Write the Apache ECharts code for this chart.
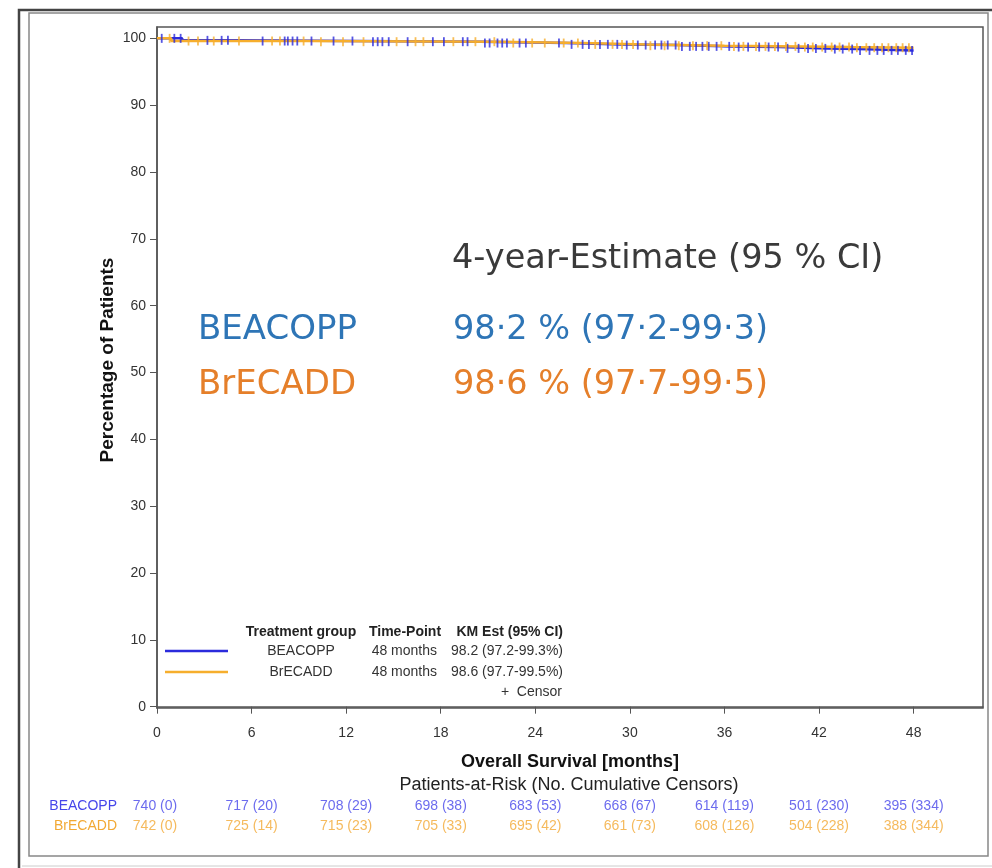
<!DOCTYPE html>
<html lang="en">
<head>
    <meta charset="UTF-8">
    <title>Overall Survival</title>
    <style>
        html, body { margin: 0; padding: 0; background: #fff; }
        #main { width: 992px; height: 868px; }
    </style>
</head>
<body>
    <div id="main"></div>
    <script src="https://cdn.jsdelivr.net/npm/echarts@6/dist/echarts.min.js"></script>
    <script>
        // axis ticks
        var monthTicks = [0, 6, 12, 18, 24, 30, 36, 42, 48];
        var pctTicks = [0, 10, 20, 30, 40, 50, 60, 70, 80, 90, 100];

        // KM step curves [month, % surviving]
        var beacoppKM = [[0, 100], [1.6, 99.7], [5.2, 99.6], [12.5, 99.5], [20.5, 99.3], [26, 99.1],
            [29.5, 99.0], [33, 98.8], [36.5, 98.7], [39.5, 98.5], [42.5, 98.4], [44.5, 98.2], [48, 98.2]];
        var brecaddKM = [[0, 100], [0.9, 99.6], [9.5, 99.5], [21.5, 99.3], [27, 99.1], [31, 98.9],
            [36, 98.8], [41, 98.7], [44, 98.6], [48, 98.6]];

        // censor times (months)
        var beacoppCensor = [0.3, 1.1, 1.5, 3.2, 4.1, 4.5, 6.7, 8.1, 8.3, 8.6, 8.9, 9.8, 11.2, 12.4, 13.7,
            14.0, 14.3, 14.7, 15.9, 17.5, 18.2, 19.4, 19.7, 20.8, 21.1, 21.6, 21.9, 22.2, 23.0, 23.4,
            25.5, 26.3, 27.0, 27.4, 28.1, 28.6, 29.2, 29.8, 30.5, 31.0, 31.6, 32.0, 32.4, 32.9, 33.3,
            33.8, 34.2, 34.6, 35.0, 35.5, 36.3, 36.9, 37.5, 38.2, 38.8, 39.4, 40.0, 40.7, 41.3, 41.8,
            42.4, 43.0, 43.5, 44.1, 44.6, 45.2, 45.7, 46.1, 46.6, 47.0, 47.5, 47.9];
        var brecaddCensor = [0.8, 2.0, 2.6, 3.6, 5.2, 7.3, 7.8, 9.3, 10.4, 11.8, 13.1, 15.2, 16.4, 16.9,
            18.8, 20.2, 21.4, 22.6, 23.8, 24.6, 25.8, 26.7, 27.8, 28.9, 29.5, 30.2, 31.3, 32.2, 33.1,
            34.0, 34.9, 35.8, 36.6, 37.2, 38.0, 38.6, 39.2, 39.9, 40.5, 41.1, 41.6, 42.2, 42.8, 43.3,
            43.9, 44.4, 45.0, 45.5, 46.0, 46.4, 46.9, 47.3, 47.7];

        // patients at risk (cumulative censors) at each tick
        var atRiskBeacopp = [740, 717, 708, 698, 683, 668, 614, 501, 395];
        var censBeacopp = [0, 20, 29, 38, 53, 67, 119, 230, 334];
        var atRiskBrecadd = [742, 725, 715, 705, 695, 661, 608, 504, 388];
        var censBrecadd = [0, 14, 23, 33, 42, 73, 126, 228, 344];

        var BLUE = '#2b2bdc';
        var ORANGE = '#f6ae2d';
        var RISK_BLUE = '#4646ea';
        var RISK_ORANGE = '#f2a935';

        // value of the step curve at time t
        function kmAt(km, t) {
            var v = km[0][1];
            for (var i = 0; i < km.length; i++) {
                if (km[i][0] <= t) v = km[i][1];
            }
            return v;
        }
        function censorPoints(km, times) {
            return times.map(function (t) { return [t, kmAt(km, t)]; });
        }
        function riskRow(atRisk, cens, row) {
            return monthTicks.map(function (m, i) {
                var item = { value: [m, row], txt: atRisk[i] + ' (' + cens[i] + ')' };
                if (i === 0) item.label = { offset: [-2, 0] };
                return item;
            });
        }

        var chart = echarts.init(document.getElementById('main'));
        var font = 'Liberation Sans';
        var big = 'DejaVu Sans';

        chart.setOption({
            animation: false,
            grid: [
                { left: 157, right: 9, top: 27, bottom: 160, show: true, borderColor: '#555', borderWidth: 1.5 },
                { left: 157, right: 9, top: 796, height: 40 }
            ],
            xAxis: [{
                gridIndex: 0, type: 'value', min: 0, max: 52.4,
                name: 'Overall Survival [months]', nameLocation: 'middle', nameGap: 45, nameMoveOverlap: false,
                nameTextStyle: { fontFamily: font, fontWeight: 'bold', fontSize: 18, color: '#111' },
                axisLine: { lineStyle: { color: '#555', width: 1.5 } },
                axisTick: { customValues: monthTicks, length: 7, lineStyle: { color: '#555' } },
                axisLabel: { customValues: monthTicks, margin: 18, fontFamily: font, fontSize: 14, color: '#333' },
                splitLine: { show: false }
            }, {
                gridIndex: 1, type: 'value', min: 0, max: 52.4, show: false
            }],
            yAxis: [{
                gridIndex: 0, type: 'value', min: -0.2, max: 101.7,
                axisLine: { show: true, lineStyle: { color: '#555', width: 1.5 } },
                axisTick: { show: true, customValues: pctTicks, length: 7, lineStyle: { color: '#555' } },
                axisLabel: { customValues: pctTicks, margin: 11, fontFamily: font, fontSize: 14, color: '#333' },
                splitLine: { show: false }
            }, {
                gridIndex: 1, type: 'category', data: ['BrECADD', 'BEACOPP'],
                axisLine: { show: false }, axisTick: { show: false },
                axisLabel: {
                    margin: 40, fontFamily: font, fontSize: 14,
                    formatter: function (v) { return v === 'BEACOPP' ? '{b|' + v + '}' : '{o|' + v + '}'; },
                    rich: { b: { color: RISK_BLUE, fontSize: 14, fontFamily: font }, o: { color: RISK_ORANGE, fontSize: 14, fontFamily: font } }
                }
            }],
            series: [{
                type: 'line', name: 'BEACOPP', step: 'end', data: beacoppKM, showSymbol: false,
                lineStyle: { color: BLUE, width: 2.5 }, z: 3
            }, {
                type: 'line', name: 'BrECADD', step: 'end', data: brecaddKM, showSymbol: false,
                lineStyle: { color: ORANGE, width: 2.5 }, z: 4
            }, {
                type: 'scatter', data: censorPoints(beacoppKM, beacoppCensor), symbol: 'rect',
                symbolSize: [1.8, 9], itemStyle: { color: BLUE }, z: 5
            }, {
                type: 'scatter', data: censorPoints(brecaddKM, brecaddCensor), symbol: 'rect',
                symbolSize: [1.8, 9], itemStyle: { color: ORANGE }, z: 5
            }, {
                type: 'scatter', xAxisIndex: 1, yAxisIndex: 1, symbolSize: 0,
                data: riskRow(atRiskBeacopp, censBeacopp, 'BEACOPP'),
                label: { show: true, position: 'inside', color: RISK_BLUE, fontFamily: font, fontSize: 14,
                    formatter: function (p) { return p.data.txt; } }
            }, {
                type: 'scatter', xAxisIndex: 1, yAxisIndex: 1, symbolSize: 0,
                data: riskRow(atRiskBrecadd, censBrecadd, 'BrECADD'),
                label: { show: true, position: 'inside', color: RISK_ORANGE, fontFamily: font, fontSize: 14,
                    formatter: function (p) { return p.data.txt; } }
            }],
            graphic: [
                // frame
                { type: 'polyline', shape: { points: [[19, 868], [19, 10], [992, 10]] }, style: { stroke: '#444', lineWidth: 2.5, fill: null } },
                { type: 'rect', shape: { x: 29, y: 13, width: 959, height: 843 }, style: { stroke: '#888', lineWidth: 1.5, fill: null } },
                { type: 'line', shape: { x1: 22, y1: 866, x2: 992, y2: 866 }, style: { stroke: '#ccc', lineWidth: 1 } },
                // y axis title
                { type: 'text', x: 108, y: 360, rotation: Math.PI / 2, style: { text: 'Percentage of Patients', fontFamily: font, fontWeight: 'bold', fontSize: 19, fill: '#111', align: 'center', verticalAlign: 'middle' } },
                // subtitle of at-risk table
                { type: 'text', x: 569, y: 785, style: { text: 'Patients-at-Risk (No. Cumulative Censors)', fontFamily: font, fontSize: 18, fill: '#222', align: 'center', verticalAlign: 'middle' } },
                // inset legend
                { type: 'text', x: 301, y: 632, style: { text: 'Treatment group', fontFamily: font, fontSize: 14, fontWeight: 'bold', fill: '#222', align: 'center', verticalAlign: 'middle' } },
                { type: 'text', x: 405, y: 632, style: { text: 'Time-Point', fontFamily: font, fontSize: 14, fontWeight: 'bold', fill: '#222', align: 'center', verticalAlign: 'middle' } },
                { type: 'text', x: 563, y: 632, style: { text: 'KM Est (95% CI)', fontFamily: font, fontSize: 14, fontWeight: 'bold', fill: '#222', align: 'right', verticalAlign: 'middle' } },
                { type: 'line', shape: { x1: 165, y1: 651, x2: 228, y2: 651 }, style: { stroke: BLUE, lineWidth: 2.5 } },
                { type: 'line', shape: { x1: 165, y1: 672, x2: 228, y2: 672 }, style: { stroke: ORANGE, lineWidth: 2.5 } },
                { type: 'text', x: 301, y: 651, style: { text: 'BEACOPP', fontFamily: font, fontSize: 14, fill: '#333', align: 'center', verticalAlign: 'middle' } },
                { type: 'text', x: 301, y: 672, style: { text: 'BrECADD', fontFamily: font, fontSize: 14, fill: '#333', align: 'center', verticalAlign: 'middle' } },
                { type: 'text', x: 437, y: 651, style: { text: '48 months', fontFamily: font, fontSize: 14, fill: '#333', align: 'right', verticalAlign: 'middle' } },
                { type: 'text', x: 437, y: 672, style: { text: '48 months', fontFamily: font, fontSize: 14, fill: '#333', align: 'right', verticalAlign: 'middle' } },
                { type: 'text', x: 563, y: 651, style: { text: '98.2 (97.2-99.3%)', fontFamily: font, fontSize: 14, fill: '#333', align: 'right', verticalAlign: 'middle' } },
                { type: 'text', x: 563, y: 672, style: { text: '98.6 (97.7-99.5%)', fontFamily: font, fontSize: 14, fill: '#333', align: 'right', verticalAlign: 'middle' } },
                { type: 'text', x: 562, y: 692, style: { text: '+  Censor', fontFamily: font, fontSize: 14, fill: '#333', align: 'right', verticalAlign: 'middle' } },
                // 4-year estimate annotation
                { type: 'text', x: 452, y: 259, style: { text: '4-year-Estimate (95 % CI)', fontFamily: big, fontSize: 33.5, fill: '#3a3a3a', verticalAlign: 'middle' } },
                { type: 'text', x: 198, y: 330, style: { text: 'BEACOPP', fontFamily: big, fontSize: 34, fill: '#2e75b6', verticalAlign: 'middle' } },
                { type: 'text', x: 453, y: 330, style: { text: '98·2 % (97·2-99·3)', fontFamily: big, fontSize: 33.5, fill: '#2e75b6', verticalAlign: 'middle' } },
                { type: 'text', x: 198, y: 385, style: { text: 'BrECADD', fontFamily: big, fontSize: 34, fill: '#e57f2a', verticalAlign: 'middle' } },
                { type: 'text', x: 453, y: 385, style: { text: '98·6 % (97·7-99·5)', fontFamily: big, fontSize: 33.5, fill: '#e57f2a', verticalAlign: 'middle' } }
            ]
        });
    </script>
</body>
</html>
